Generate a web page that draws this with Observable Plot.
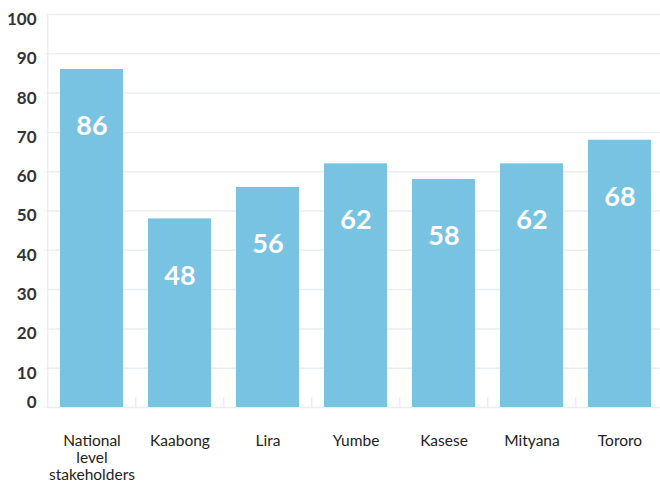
<!DOCTYPE html>
<html>
<head>
<meta charset="utf-8">
<script src="https://cdn.jsdelivr.net/npm/d3@7"></script>
<script src="https://cdn.jsdelivr.net/npm/@observablehq/plot@0.6"></script>
<style>
  html, body { margin: 0; padding: 0; background: #fff; overflow: hidden; }
  #chart svg { display: block; max-width: none !important; }
</style>
</head>
<body>
<div id="chart"></div>
<script>
const categories = ["National level stakeholders", "Kaabong", "Lira", "Yumbe", "Kasese", "Mityana", "Tororo"];
const values = [86, 48, 56, 62, 58, 62, 68];
const yTicks = [0, 10, 20, 30, 40, 50, 60, 70, 80, 90, 100];

const data = categories.map((c, i) => ({category: c, value: values[i]}));

const W = 666, H = 483, ML = 46, MR = 0, MT = 14, MB = 76;
const step = (W - ML - MR) / categories.length;
const gridColor = "#e8eef1";
const font = "Lato, 'Open Sans', sans-serif";

const plot = Plot.plot({
  width: W,
  height: H,
  marginLeft: ML,
  marginRight: MR,
  marginTop: MT,
  marginBottom: MB,
  style: {fontFamily: font, background: "#fff", maxWidth: "none"},
  x: {domain: categories, paddingInner: 0.28, paddingOuter: 0.14, label: null},
  y: {domain: [0, 100], label: null},
  marks: [
    Plot.gridY(yTicks, {stroke: gridColor, strokeOpacity: 1, strokeWidth: 1.5}),
    Plot.ruleX([0], {x: () => categories[0], dx: -step / 2, y1: 0, y2: 100, stroke: gridColor, strokeWidth: 1.5}),
    Plot.ruleX(categories.slice(1), {x: d => d, dx: -step / 2, y1: 0, y2: 2.5, stroke: gridColor, strokeWidth: 1.5}),
    Plot.barY(data, {x: "category", y: "value", fill: "#78c3e2"}),
    Plot.text(data, {x: "category", y: "value", text: d => String(d.value), dy: 57, fill: "#fff", fontSize: 27, fontWeight: "bold"}),
    Plot.axisY(yTicks.slice(1), {tickSize: 0, tickPadding: 10, dy: 5, fontSize: 17, fontWeight: "bold", fill: "#333", label: null}),
    Plot.axisY([0], {tickSize: 0, tickPadding: 10, dy: -5, fontSize: 17, fontWeight: "bold", fill: "#333", label: null}),
    Plot.axisX({tickSize: 0, tickPadding: 26, lineAnchor: "top", lineHeight: 1.1, fontSize: 15.5, fill: "#222",
      tickFormat: d => d.split(" ").join("\n"), label: null})
  ]
});
document.getElementById("chart").appendChild(plot);
</script>
</body>
</html>
